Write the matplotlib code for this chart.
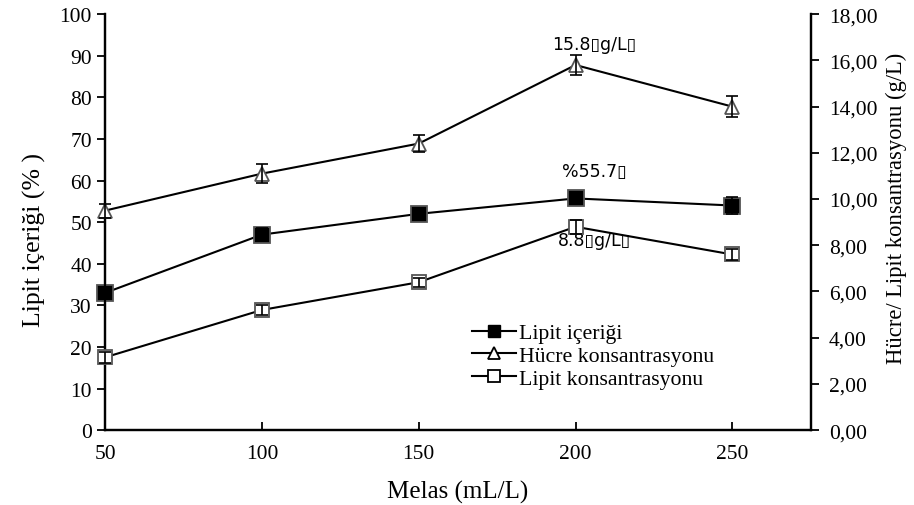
import matplotlib
matplotlib.use("Agg")
import matplotlib.pyplot as plt
from matplotlib.lines import Line2D

# data
melas = [50, 100, 150, 200, 250]
lipit_icerigi = [33.0, 47.0, 52.0, 55.7, 54.0]        # %, left axis
lipit_icerigi_err = [1.5, 1.5, 1.5, 1.3, 2.0]
hucre_kons = [9.5, 11.1, 12.4, 15.8, 14.0]            # g/L, right axis
hucre_kons_err = [0.3, 0.4, 0.35, 0.45, 0.45]
lipit_kons = [3.15, 5.2, 6.4, 8.8, 7.6]               # g/L, right axis
lipit_kons_err = [0.25, 0.2, 0.2, 0.3, 0.25]

left_ticks = list(range(0, 101, 10))
right_ticks = [0, 2, 4, 6, 8, 10, 12, 14, 16, 18]
right_labels = ["0,00", "2,00", "4,00", "6,00", "8,00", "10,00", "12,00", "14,00", "16,00", "18,00"]

plt.rcParams['font.family'] = ['Liberation Serif', 'DejaVu Serif']

fig = plt.figure(figsize=(9.14, 5.06), dpi=100)
ax = fig.add_axes([0.115, 0.148, 0.772, 0.822])
ax2 = ax.twinx()


def draw(a, y, err, marker, face, ms):
    a.plot(melas, y, color='k', lw=1.5, marker=marker, ms=ms, mfc=face,
           mec='#555555', mew=1.3, zorder=3, clip_on=False)
    a.errorbar(melas, y, yerr=err, fmt='none', ecolor='k', capsize=4,
               elinewidth=1.2, capthick=1.2, zorder=4, clip_on=False)


draw(ax, lipit_icerigi, lipit_icerigi_err, 's', 'black', 11)
draw(ax2, hucre_kons, hucre_kons_err, '^', 'white', 10)
draw(ax2, lipit_kons, lipit_kons_err, 's', 'white', 10.5)

ax.set_xlim(50, 275)
ax.set_ylim(0, 100)
ax2.set_ylim(0, 18)
ax.set_xticks(melas)
ax.set_yticks(left_ticks)
ax2.set_yticks(right_ticks)
ax2.set_yticklabels(right_labels)

ax.tick_params(axis='x', direction='in', length=6, width=1.3, labelsize=15.5, pad=10)
ax.tick_params(axis='y', direction='out', length=6, width=1.3, labelsize=15.5)
ax2.tick_params(axis='y', direction='out', length=6, width=1.3, labelsize=15.5, pad=7)

for a in (ax, ax2):
    for s in a.spines.values():
        s.set_linewidth(1.6)
    a.spines['top'].set_visible(False)

ax.set_xlabel("Melas (mL/L)", fontsize=18, labelpad=12)
ax.set_ylabel("Lipit içeriği (% )", fontsize=18.5)
ax.yaxis.set_label_coords(-0.084, 0.46)
ax2.set_ylabel("Hücre/ Lipit konsantrasyonu (g/L)", fontsize=16.3)
ax2.yaxis.set_label_coords(1.106, 0.536)

ann_font = ['DejaVu Sans']
ax.text(206, 92.8, "15.8▯g/L▯", ha='center', va='center', fontsize=12.5, family=ann_font)
ax.text(206, 62.3, "%55.7▯", ha='center', va='center', fontsize=12.5, family=ann_font)
ax.text(206, 45.7, "8.8▯g/L▯", ha='center', va='center', fontsize=12.5, family=ann_font)

handles = [
    Line2D([], [], color='k', lw=1.5, marker='s', ms=9, mfc='black', mec='black'),
    Line2D([], [], color='k', lw=1.5, marker='^', ms=8, mfc='white', mec='black', mew=1.3),
    Line2D([], [], color='k', lw=1.5, marker='s', ms=8, mfc='white', mec='black', mew=1.3),
]
labels = ["Lipit içeriği", "Hücre konsantrasyonu", "Lipit konsantrasyonu"]
ax2.legend(handles, labels, loc='lower left', bbox_to_anchor=(0.508, 0.078),
           frameon=False, fontsize=15.7, handlelength=2.0, handletextpad=0.15,
           labelspacing=0.12, borderaxespad=0)

fig.savefig("out.png", dpi=100)
